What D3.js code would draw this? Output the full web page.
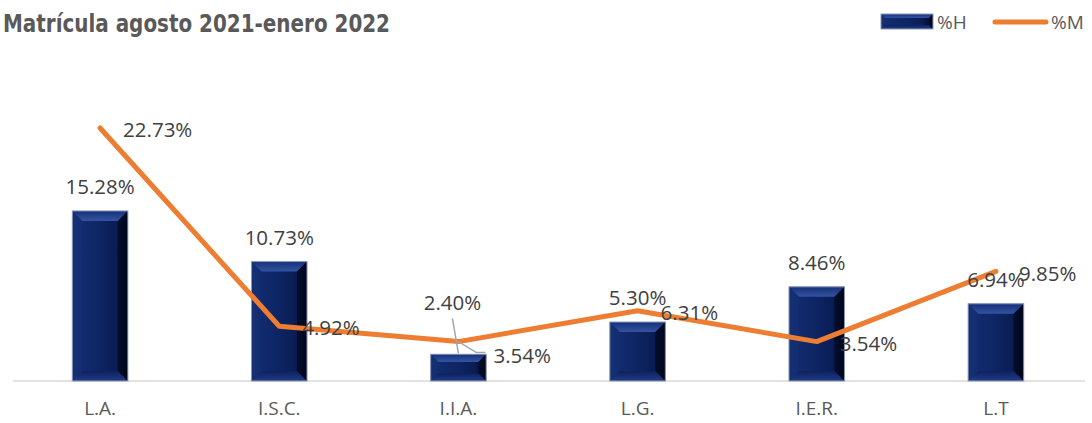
<!DOCTYPE html>
<meta charset="utf-8">
<html>
    <head>
        <script src="https://d3js.org/d3.v7.min.js"></script>
    </head>
    <style>
        body { margin: 0; background: #fff; }
        svg { display: block; }
    </style>
    <body>

        <div id="chart"></div>

        <script>

            var categories = ["L.A.", "I.S.C.", "I.I.A.", "L.G.", "I.E.R.", "L.T"];
            var pctH = [15.28, 10.73, 2.40, 5.30, 8.46, 6.94];
            var pctM = [22.73, 4.92, 3.54, 6.31, 3.54, 9.85];
            var seriesNames = ["%H", "%M"];

            var width = 1092, height = 423;
            var baseY = 381;

            // labels that were dragged away in the original, with a leader line
            var movedBarLabel = { "I.I.A.": [-6, -27] };
            var movedLineLabel = { "I.I.A.": [12, 12] };

            var x = d3.scaleBand(categories, [10.5, 1085.5])
                .paddingInner(0.69)
                .paddingOuter(0.345);
            var y = d3.scaleLinear([0, 25], [baseY, baseY - 25 * 11.13]);
            var cx = c => x(c) + x.bandwidth() / 2;

            var svg = d3.select("#chart")
                .append("svg")
                .attr("width", width)
                .attr("height", height)
                .attr("viewBox", [0, 0, width, height]);

            var defs = svg.append("defs");
            var g1 = defs.append("linearGradient").attr("id", "barFace")
                .attr("x1", 0).attr("x2", 1).attr("y1", 0).attr("y2", 0);
            g1.append("stop").attr("offset", "0%").attr("stop-color", "#152e70");
            g1.append("stop").attr("offset", "45%").attr("stop-color", "#0e2666");
            g1.append("stop").attr("offset", "78%").attr("stop-color", "#0a1d55");
            g1.append("stop").attr("offset", "100%").attr("stop-color", "#010620");
            var g2 = defs.append("linearGradient").attr("id", "bevTop")
                .attr("x1", 0).attr("x2", 0).attr("y1", 0).attr("y2", 1);
            g2.append("stop").attr("offset", "0%").attr("stop-color", "#15307a");
            g2.append("stop").attr("offset", "100%").attr("stop-color", "#3454a0");
            var g3 = defs.append("linearGradient").attr("id", "bevBot")
                .attr("x1", 0).attr("x2", 0).attr("y1", 0).attr("y2", 1);
            g3.append("stop").attr("offset", "0%").attr("stop-color", "#0b2160");
            g3.append("stop").attr("offset", "100%").attr("stop-color", "#223c84");

            function bevelBar(sel, x0, y0, w, h, b) {
                var x1 = x0 + w, y1 = y0 + h;
                var gg = sel.append("g");
                gg.append("rect").attr("x", x0).attr("y", y0).attr("width", w).attr("height", h)
                    .attr("fill", "url(#barFace)");
                gg.append("polygon")
                    .attr("points", [[x0, y0], [x1, y0], [x1 - b, y0 + b], [x0 + b, y0 + b]].join(" "))
                    .attr("fill", "url(#bevTop)");
                gg.append("polygon")
                    .attr("points", [[x0, y1], [x1, y1], [x1 - b, y1 - b], [x0 + b, y1 - b]].join(" "))
                    .attr("fill", "url(#bevBot)");
                gg.append("polygon")
                    .attr("points", [[x1, y0], [x1, y1], [x1 - b, y1 - b], [x1 - b, y0 + b]].join(" "))
                    .attr("fill", "#010618").attr("opacity", 0.6);
                gg.append("polygon")
                    .attr("points", [[x0, y0], [x0, y1], [x0 + b, y1 - b], [x0 + b, y0 + b]].join(" "))
                    .attr("fill", "#16317a").attr("opacity", 0.4);
                gg.append("rect").attr("x", x0).attr("y", y0).attr("width", w).attr("height", h)
                    .attr("fill", "none").attr("stroke", "#8a9ab8").attr("stroke-width", 1);
            }

            // title
            svg.append("text")
                .attr("x", 3)
                .attr("y", 32)
                .attr("fill", "#595959")
                .attr("font-family", "'Liberation Sans Narrow', 'DejaVu Sans Condensed', sans-serif")
                .attr("font-weight", "bold")
                .attr("font-size", 25)
                .attr("textLength", 387)
                .attr("lengthAdjust", "spacingAndGlyphs")
                .text("Matrícula agosto 2021-enero 2022");

            // legend
            var legend = svg.append("g")
                .attr("font-family", "'Open Sans', sans-serif")
                .attr("font-size", 19)
                .attr("fill", "#595959");
            bevelBar(legend, 881, 14, 52, 15, 4);
            legend.append("text").attr("x", 937).attr("y", 22).attr("dy", "0.35em").text(seriesNames[0]);
            legend.append("line")
                .attr("x1", 995).attr("x2", 1046).attr("y1", 22).attr("y2", 22)
                .attr("stroke", "#ED7D31").attr("stroke-width", 5).attr("stroke-linecap", "round");
            legend.append("text").attr("x", 1051).attr("y", 22).attr("dy", "0.35em").text(seriesNames[1]);

            // baseline
            svg.append("line")
                .attr("x1", 13).attr("x2", 1085)
                .attr("y1", baseY).attr("y2", baseY)
                .attr("stroke", "#d9d9d9").attr("stroke-width", 1.5);

            // bars
            var bars = svg.append("g");
            categories.forEach((c, i) => {
                var h = y(0) - y(pctH[i]);
                bevelBar(bars, x(c), y(pctH[i]), x.bandwidth(), h, Math.min(10, h / 3.5));
            });

            // x axis labels
            var xAxis = d3.axisBottom(x).tickSize(0).tickPadding(21);
            svg.append("g")
                .attr("transform", `translate(0,${baseY})`)
                .call(xAxis)
                .call(g => g.select(".domain").remove())
                .call(g => g.selectAll("text")
                    .attr("font-family", "'Open Sans', sans-serif")
                    .attr("font-size", 19)
                    .attr("fill", "#595959"));

            // %M line
            var line = d3.line()
                .x((d, i) => cx(categories[i]))
                .y(d => y(d));
            svg.append("path")
                .datum(pctM)
                .attr("d", line)
                .attr("fill", "none")
                .attr("stroke", "#ED7D31")
                .attr("stroke-width", 5)
                .attr("stroke-linejoin", "round")
                .attr("stroke-linecap", "round");

            // data labels
            var labels = svg.append("g")
                .attr("font-family", "'Open Sans', sans-serif")
                .attr("font-size", 20.5)
                .attr("fill", "#404040");
            var fmt = d => d.toFixed(2) + "%";

            categories.forEach((c, i) => {
                // bar label above bar
                var bx = cx(c), by = y(pctH[i]) - 24;
                var mb = movedBarLabel[c];
                if (mb) {
                    labels.append("line")
                        .attr("x1", bx + mb[0]).attr("y1", by + mb[1] + 15)
                        .attr("x2", bx).attr("y2", y(pctH[i]) - 1)
                        .attr("stroke", "#a6a6a6").attr("stroke-width", 1.5);
                    bx += mb[0]; by += mb[1];
                }
                labels.append("text")
                    .attr("x", bx).attr("y", by).attr("dy", "0.35em")
                    .attr("text-anchor", "middle")
                    .text(fmt(pctH[i]));

                // line label to the right
                var px = cx(c), py = y(pctM[i]);
                var lx = px + 23, ly = py + 2;
                var ml = movedLineLabel[c];
                if (ml) {
                    lx += ml[0]; ly += ml[1];
                    labels.append("polyline")
                        .attr("points", [[px, py], [px + 18, ly - 3], [lx - 8, ly - 3]].join(" "))
                        .attr("fill", "none")
                        .attr("stroke", "#a6a6a6").attr("stroke-width", 1.5);
                }
                labels.append("text")
                    .attr("x", lx).attr("y", ly).attr("dy", "0.35em")
                    .text(fmt(pctM[i]));
            });

        </script>
    </body>
</html>
